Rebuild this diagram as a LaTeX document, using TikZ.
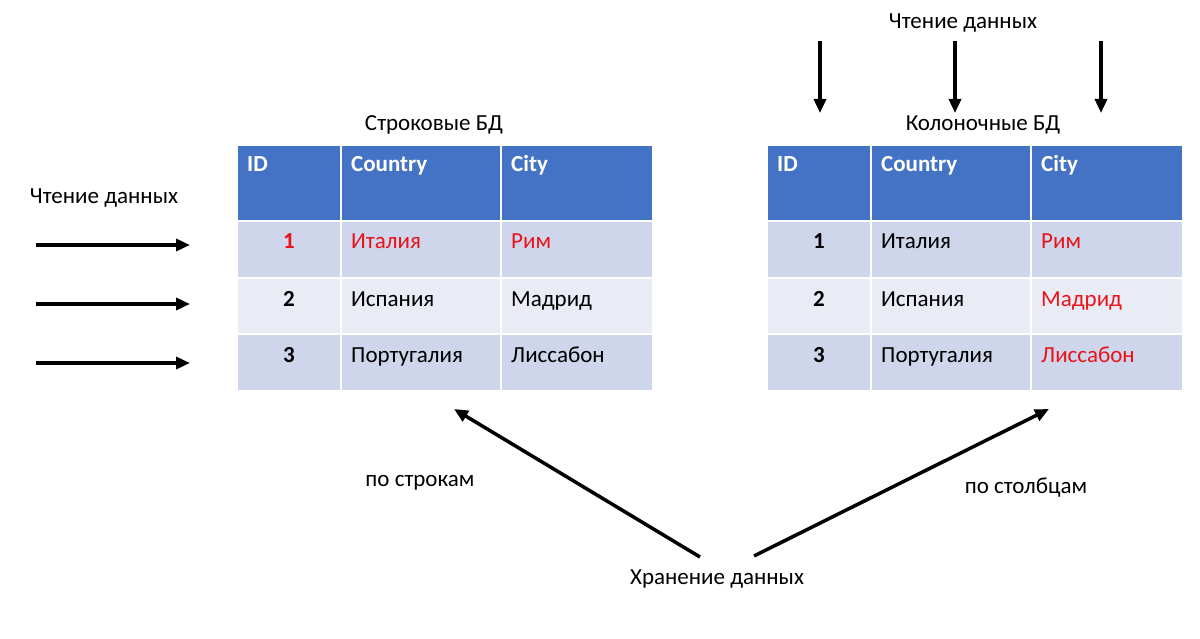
\documentclass[tikz,border=0pt]{standalone}
\usepackage{fontspec}
\setmainfont{Carlito}
\usetikzlibrary{arrows.meta}
\definecolor{hdr}{HTML}{4472C4}
\definecolor{rowA}{HTML}{CFD5EA}
\definecolor{rowB}{HTML}{E9EBF5}
\definecolor{hl}{HTML}{E8141A}
\begin{document}
\begin{tikzpicture}[x=1pt,y=-1pt,
  cell/.style={draw=white, line width=2pt, anchor=north west, inner sep=0pt, outer sep=0pt},
  hcell/.style={cell, fill=hdr},
  acell/.style={cell, fill=rowA},
  bcell/.style={cell, fill=rowB},
  txt/.style={inner sep=0pt, font=\fontsize{23}{26}\selectfont},
  htxt/.style={txt, anchor=base west, text=white, font=\fontsize{23}{26}\selectfont\bfseries},
  ltxt/.style={txt, anchor=base west},
  ctxt/.style={txt, anchor=base, font=\fontsize{23}{26}\selectfont\bfseries},
  lbl/.style={inner sep=0pt, anchor=base, font=\fontsize{23}{26}\selectfont},
  arr/.style={line width=3.5pt, -{Triangle[length=14pt,width=12pt]}}
]
\useasboundingbox (0,0) rectangle (1200,639);

% ---------- tables ----------
\foreach \t/\ox in {L/0, R/530}{
  \node[hcell, minimum width=104pt, minimum height=76pt] (\t-h1) at (237+\ox,145) {};
  \node[hcell, minimum width=160pt, minimum height=76pt] (\t-h2) at (341+\ox,145) {};
  \node[hcell, minimum width=152pt, minimum height=76pt] (\t-h3) at (501+\ox,145) {};
  \foreach \r/\y/\h/\s in {1/221/57/acell, 2/278/56/bcell, 3/334/57/acell}{
    \node[\s, minimum width=104pt, minimum height=\h pt] (\t-\r-1) at (237+\ox,\y) {};
    \node[\s, minimum width=160pt, minimum height=\h pt] (\t-\r-2) at (341+\ox,\y) {};
    \node[\s, minimum width=152pt, minimum height=\h pt] (\t-\r-3) at (501+\ox,\y) {};
  }
  \node[htxt] (\t-th1) at (247+\ox,172) {ID};
  \node[htxt] (\t-th2) at (351+\ox,172) {Country};
  \node[htxt] (\t-th3) at (511+\ox,172) {City};
}

% left table contents
\node[ctxt, text=hl] (L-t11) at (289,249) {1};
\node[ltxt, text=hl] (L-t12) at (351,249) {Италия};
\node[ltxt, text=hl] (L-t13) at (511,249) {Рим};
\node[ctxt] (L-t21) at (289,306) {2};
\node[ltxt] (L-t22) at (351,306) {Испания};
\node[ltxt] (L-t23) at (511,306) {Мадрид};
\node[ctxt] (L-t31) at (289,362) {3};
\node[ltxt] (L-t32) at (351,362) {Португалия};
\node[ltxt] (L-t33) at (511,362) {Лиссабон};

% right table contents
\node[ctxt] (R-t11) at (819,249) {1};
\node[ltxt] (R-t12) at (881,249) {Италия};
\node[ltxt, text=hl] (R-t13) at (1041,249) {Рим};
\node[ctxt] (R-t21) at (819,306) {2};
\node[ltxt] (R-t22) at (881,306) {Испания};
\node[ltxt, text=hl] (R-t23) at (1041,306) {Мадрид};
\node[ctxt] (R-t31) at (819,362) {3};
\node[ltxt] (R-t32) at (881,362) {Португалия};
\node[ltxt, text=hl] (R-t33) at (1041,362) {Лиссабон};

% ---------- labels ----------
\node[lbl] (topread) at (963,29) {Чтение данных};
\node[lbl] (coldb) at (983,131) {Колоночные БД};
\node[lbl] (rowdb) at (434,131) {Строковые БД};
\node[lbl] (leftread) at (104,204) {Чтение данных};
\node[lbl] (byrow) at (420,486) {по строкам};
\node[lbl] (bycol) at (1026,493) {по столбцам};
\node[lbl] (store) at (717,584) {Хранение данных};

% ---------- arrow end points ----------
\coordinate (ha1) at (36,245);  \coordinate (hb1) at (190,245);
\coordinate (ha2) at (36,304);  \coordinate (hb2) at (190,304);
\coordinate (ha3) at (36,363);  \coordinate (hb3) at (190,363);
\coordinate (va1) at (820,41);  \coordinate (vb1) at (820,113);
\coordinate (va2) at (955,41);  \coordinate (vb2) at (955,113);
\coordinate (va3) at (1101,41); \coordinate (vb3) at (1101,113);
\coordinate (dl0) at (700,557); \coordinate (dl1) at (454,409);
\coordinate (dr0) at (754,556); \coordinate (dr1) at (1049,409);

\foreach \i in {1,2,3}{
  \draw[arr] (ha\i) -- (hb\i);
  \draw[arr] (va\i) -- (vb\i);
}
\draw[arr] (dl0) -- (dl1);
\draw[arr] (dr0) -- (dr1);
\end{tikzpicture}
\end{document}
